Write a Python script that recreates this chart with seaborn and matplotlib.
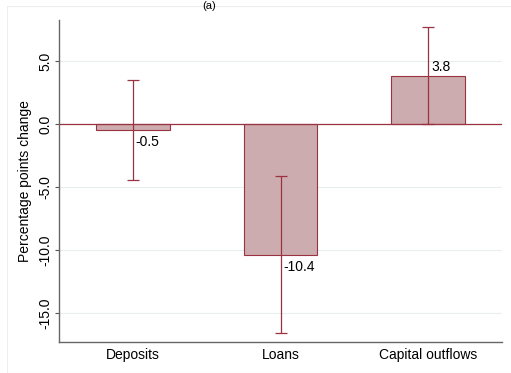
import numpy as np
import pandas as pd
import seaborn as sns
import matplotlib.pyplot as plt
from matplotlib.patches import Rectangle

categories = ['Deposits', 'Loans', 'Capital outflows']
estimates = [-0.5, -10.4, 3.8]
ci_low = [-4.45, -16.6, 0.0]
ci_high = [3.45, -4.1, 7.7]
yticks = [5.0, 0.0, -5.0, -10.0, -15.0]

df = pd.DataFrame({'category': categories, 'estimate': estimates})

sns.set_style('white')
plt.rcParams['font.family'] = ['Liberation Sans', 'DejaVu Sans']
plt.rcParams['text.color'] = 'black'
plt.rcParams['axes.labelcolor'] = 'black'
plt.rcParams['xtick.color'] = 'black'
plt.rcParams['ytick.color'] = 'black'

fig = plt.figure(figsize=(5.11, 3.73), dpi=100)
fig.patches.append(Rectangle((7 / 511, 0.0), 1.0, 1 - 6 / 373, transform=fig.transFigure,
                             fill=False, edgecolor='#eeeeee', lw=0.8))
ax = fig.add_axes([59 / 511, 1 - 342 / 373, (502 - 59) / 511, (342 - 20) / 373])

bar_fill = '#cdacaf'
dark_red = '#9a3341'

sns.barplot(data=df, x='category', y='estimate', ax=ax, color=bar_fill,
            edgecolor=dark_red, linewidth=0.8, width=0.5, saturation=1, errorbar=None)

for i, (e, lo, hi) in enumerate(zip(estimates, ci_low, ci_high)):
    ax.errorbar(i, e, yerr=[[e - lo], [hi - e]], color=dark_red, lw=0.9,
                capsize=4, capthick=0.9)
    if e < 0:
        ax.text(i + 0.02, e - 0.4, f'{e:.1f}', ha='left', va='top', fontsize=10)
    else:
        ax.text(i + 0.02, e + 0.15, f'{e:.1f}', ha='left', va='bottom', fontsize=10)

ax.axhline(0, color=dark_red, lw=0.9, zorder=1)
ax.set_yticks(yticks)
ax.set_yticklabels([f'{t:.1f}' for t in yticks], rotation=90, va='center', fontsize=10)
ax.yaxis.grid(True, color='#e6eef0', lw=0.8)
ax.set_axisbelow(True)
ax.set_xlim(-0.5, 2.5)
ax.set_ylim(-17.3, 8.25)
ax.set_xlabel('')
ax.set_ylabel('Percentage points change', fontsize=10, labelpad=4)
ax.tick_params(axis='x', labelsize=10, length=0, pad=4)
ax.tick_params(axis='y', length=3, left=True, color='#555555', pad=2)
for side in ['top', 'right']:
    ax.spines[side].set_visible(False)
for side in ['left', 'bottom']:
    ax.spines[side].set_color('#666666')
    ax.spines[side].set_linewidth(1.0)

fig.text(0.41, 0.997, '(a)', ha='center', va='top', fontsize=8)

fig.savefig('out.png', dpi=100)
